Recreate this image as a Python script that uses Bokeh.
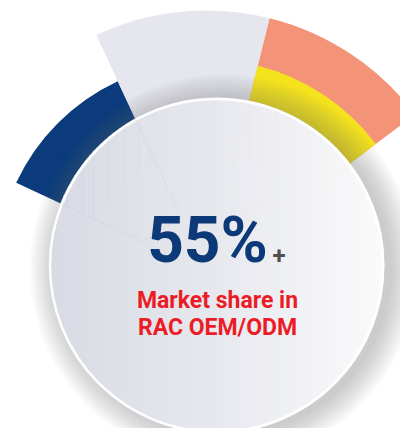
import numpy as np
from bokeh.plotting import figure
from bokeh.models import Range1d
from bokeh.core.properties import value
from bokeh.embed import file_html
from bokeh.resources import INLINE

# ---- data ----
segment_names = ["Navy", "Lavender", "Salmon"]
segment_span_deg = [40, 39, 39]
segment_colors = ["#0b3b7c", "#e6e6ef", "#f39478"]
inner_band_name = "Yellow"
inner_band_span_deg = 39
inner_band_color = "#f4e31c"
headline = "55%"
headline_suffix = "+"
caption_lines = ["Market share in", "RAC OEM/ODM"]

# ---- layout helpers (picture px -> data, y up) ----
H = 444
def Y(sy):
    return H - sy

W_FIG, H_FIG = 400, 428
p = figure(width=W_FIG, height=H_FIG, output_backend="svg", toolbar_location=None,
           x_range=Range1d(0, W_FIG), y_range=Range1d(H - H_FIG, H), min_border=0, title=None)
p.axis.visible = False
p.grid.visible = False
p.outline_line_color = None
p.background_fill_color = "white"
p.border_fill_color = "white"

# arc geometry
acx, acy = 206, Y(271)
start_deg = 155
ends = start_deg - np.cumsum(segment_span_deg)
starts = np.concatenate([[start_deg], ends[:-1]])
outer_r = [210, 261, 261]

p.annular_wedge(x=[acx] * 3, y=[acy] * 3, inner_radius=120, outer_radius=outer_r,
                start_angle=[float(np.deg2rad(a)) for a in ends],
                end_angle=[float(np.deg2rad(a)) for a in starts],
                fill_color=segment_colors, line_color=None)
# yellow inner band over the salmon segment
y_end = float(starts[2])
y_start = y_end - inner_band_span_deg
p.annular_wedge(x=[acx], y=[acy], inner_radius=120, outer_radius=212,
                start_angle=[float(np.deg2rad(y_start))], end_angle=[float(np.deg2rad(y_end))],
                fill_color=inner_band_color, line_color=None)

# disk shadow (soft, stronger toward the right)
scx, scy = 223, Y(268)
sr = list(range(168, 196, 2))
p.circle(x=[scx] * len(sr), y=[scy] * len(sr), radius=sr,
         fill_color="#6c6f78", fill_alpha=0.028, line_color=None)

# disk with horizontal gradient (vertical strips)
dcx, dcy, R = 216, Y(265), 168
N = 90
xs_edges = np.linspace(dcx - R, dcx + R, N + 1)
stops_x = [dcx - R, dcx, dcx + R]
stops_c = np.array([[216, 219, 228], [232, 233, 239], [251, 251, 252]])
pxs, pys, cols = [], [], []
for i in range(N):
    a, b = xs_edges[i], xs_edges[i + 1] + 0.6
    b = min(b, dcx + R)
    xx = np.linspace(a, b, 6)
    hh = np.sqrt(np.clip(R ** 2 - (xx - dcx) ** 2, 0, None))
    pxs.append([float(v) for v in list(xx) + list(xx[::-1])])
    pys.append([float(v) for v in list(dcy + hh) + list((dcy - hh)[::-1])])
    xm = (xs_edges[i] + xs_edges[i + 1]) / 2
    c = [int(np.interp(xm, stops_x, stops_c[:, k])) for k in range(3)]
    cols.append("#%02x%02x%02x" % tuple(c))
p.patches(xs=pxs, ys=pys, fill_color=cols, line_color=None)
# rim highlight
p.circle(x=[dcx], y=[dcy], radius=R - 1.5, fill_color=None, line_color="white",
         line_width=2.5, line_alpha=0.95)

# faint guide lines from the segment edges toward the centre
def pt(ang, r):
    t = np.deg2rad(ang)
    return float(acx + r * np.cos(t)), float(acy + r * np.sin(t))

def guide(a1, r1, a2, r2, color):
    o1, i1, i2, o2 = pt(a1, 180), pt(a1, r1), pt(a2, r2), pt(a2, 180)
    p.line(x=[o1[0], i1[0], i2[0], o2[0]], y=[o1[1], i1[1], i2[1], o2[1]],
           line_color=color, line_width=0.7, line_dash="1 2", line_alpha=0.55)

guide(float(starts[0]), 70, float(ends[0]), 60, "#9aa3bd")
guide(y_end, 60, y_start, 120, "#e6e4b0")

# texts (anchor = vertical middle of the glyph box)
p.text(x=[207], y=[Y(240)], text=[headline], text_font=value("Roboto"),
       text_font_style="bold", text_font_size="64px", text_color="#0c3a78",
       text_align="center", text_baseline="alphabetic")
p.text(x=[272], y=[Y(255)], text=[headline_suffix], text_font=value("Roboto"),
       text_font_style="bold", text_font_size="24px", text_color="#505053",
       text_align="left", text_baseline="alphabetic")
p.text(x=[217, 217], y=[Y(300), Y(327)], text=caption_lines, text_font=value("Roboto"),
       text_font_style="bold", text_font_size="23px", text_color="#ec1c27",
       text_align="center", text_baseline="alphabetic")

open("out.html", "w").write(file_html(p, INLINE))
